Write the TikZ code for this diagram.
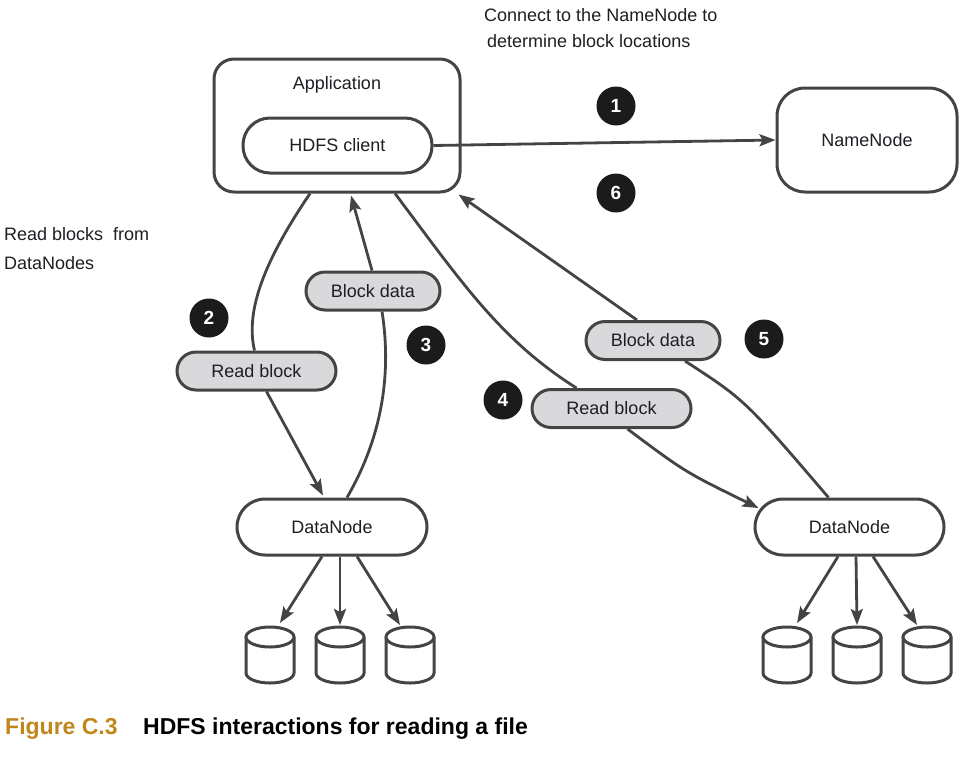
\documentclass[tikz,border=0pt]{standalone}
\usepackage{fontspec}
\setmainfont{Liberation Sans}
\usetikzlibrary{arrows.meta,calc}
\definecolor{ln}{HTML}{444444}
\definecolor{pillgray}{HTML}{D9D9DB}
\definecolor{numfill}{HTML}{1B1B1B}
\definecolor{capgold}{HTML}{C0861A}
\definecolor{txt}{HTML}{1E1E24}
\begin{document}
\begin{tikzpicture}[x=1pt,y=-1pt,
  every node/.style={font=\fontsize{18}{21}\selectfont, text=txt},
  box/.style={draw=ln, line width=3pt, fill=white, rounded corners=#1, inner sep=0pt},
  pill/.style={draw=ln, line width=3pt, fill=pillgray, rounded corners=19pt, minimum height=38pt, minimum width=#1, inner sep=0pt},
  num/.style={circle, fill=numfill, minimum size=39pt, inner sep=0pt, text=white, font=\fontsize{19}{21}\selectfont\bfseries},
  plain/.style={anchor=west, inner sep=0pt},
  conn/.style={draw=ln, line width=2.8pt},
  arr/.style={conn, -{Stealth[length=16pt,width=12pt,inset=3pt]}},
  dbcyl/.pic={
    \draw[ln, line width=3pt, fill=white] (-24,10) -- (-24,46) arc[start angle=180,end angle=0,x radius=24,y radius=10] -- (24,10);
    \draw[ln, line width=3pt, fill=white] (0,10) ellipse[x radius=24,y radius=10];
  }]
\useasboundingbox (0,0) rectangle (976,758);

% main boxes
\node[box=20pt, minimum width=246pt, minimum height=133pt] (app) at (337,125.5) {};
\node[inner sep=0pt] (apptext) at (337,85) {Application};
\node[box=27pt, minimum width=189pt, minimum height=55pt] (hdfs) at (337.5,145.5) {HDFS client};
\node[box=28pt, minimum width=180pt, minimum height=104pt] (nn) at (867,140) {NameNode};
\node[box=28pt, minimum width=190pt, minimum height=56pt] (dn1) at (332,527) {DataNode};
\node[box=28pt, minimum width=189pt, minimum height=56pt] (dn2) at (849.5,527) {DataNode};

% cylinders
\foreach \n/\x in {c11/270,c12/340,c13/410,c21/787,c22/857,c23/927}{
  \coordinate (\n) at (\x,627);
  \pic at (\n) {dbcyl};
}

% labels on connectors
\node[pill=134pt] (bd1) at (373,291) {Block data};
\node[pill=159pt] (rb1) at (256.5,371) {Read block};
\node[pill=134pt] (bd2) at (653,340.5) {Block data};
\node[pill=159pt] (rb2) at (611.5,408.5) {Read block};

% connectors
\draw[arr] (hdfs.east) -- (nn.west);

\draw[conn] ([xshift=-27pt]app.south) .. controls (265,260) and (245,310) .. ([xshift=-2pt]rb1.north);
\draw[arr] ([xshift=10pt]rb1.south) -- ([xshift=-9pt,yshift=2pt]dn1.north);

\draw[conn] ([xshift=15pt]dn1.north) .. controls (392,420) and (388,350) .. ([xshift=9pt]bd1.south);
\draw[arr] ([xshift=-1pt]bd1.north) -- ([xshift=14pt,yshift=-2pt]app.south);

\draw[conn] ([xshift=58pt]app.south) .. controls (460,280) and (500,340) .. ([xshift=-35pt]rb2.north);
\draw[arr] ([xshift=16pt]rb2.south) .. controls (685,472) .. ([xshift=5pt,yshift=19pt]dn2.west);

\draw[conn] ([xshift=-21pt]dn2.north) .. controls (745,400) .. ([xshift=32pt]bd2.south);
\draw[arr] ([xshift=-16pt]bd2.north) -- ([xshift=-3pt,yshift=-1pt]app.south east);

\draw[arr] ([xshift=-10pt]dn1.south) -- ([xshift=10pt,yshift=4pt]c11);
\draw[arr] ([xshift=8pt]dn1.south) -- ([yshift=2pt]c12);
\draw[arr] ([xshift=25pt]dn1.south) -- ([xshift=-10pt,yshift=2pt]c13);
\draw[arr] ([xshift=-11.5pt]dn2.south) -- ([xshift=10pt,yshift=4pt]c21);
\draw[arr] ([xshift=6.5pt]dn2.south) -- ([yshift=2pt]c22);
\draw[arr] ([xshift=23.5pt]dn2.south) -- ([xshift=-10pt,yshift=2pt]c23);

% step numbers
\node[num] (n1) at (616,106) {1};
\node[num] (n6) at (616,193) {6};
\node[num] (n2) at (209,318) {2};
\node[num] (n3) at (426,345) {3};
\node[num] (n4) at (503,400) {4};
\node[num] (n5) at (764,339) {5};

% free texts
\node[plain] (t1) at (484,15) {Connect to the NameNode to};
\node[plain] (t2) at (487,41) {determine block locations};
\node[plain] (t3) at (4,234) {Read blocks~ from};
\node[plain] (t4) at (4,263) {DataNodes};

% caption
\node[plain, font=\fontsize{23}{26}\selectfont\bfseries, text=capgold] (cap1) at (5,729) {Figure C.3};
\node[plain, font=\fontsize{23}{26}\selectfont\bfseries, text=black] (cap2) at (143,729) {HDFS interactions for reading a file};
\end{tikzpicture}
\end{document}
